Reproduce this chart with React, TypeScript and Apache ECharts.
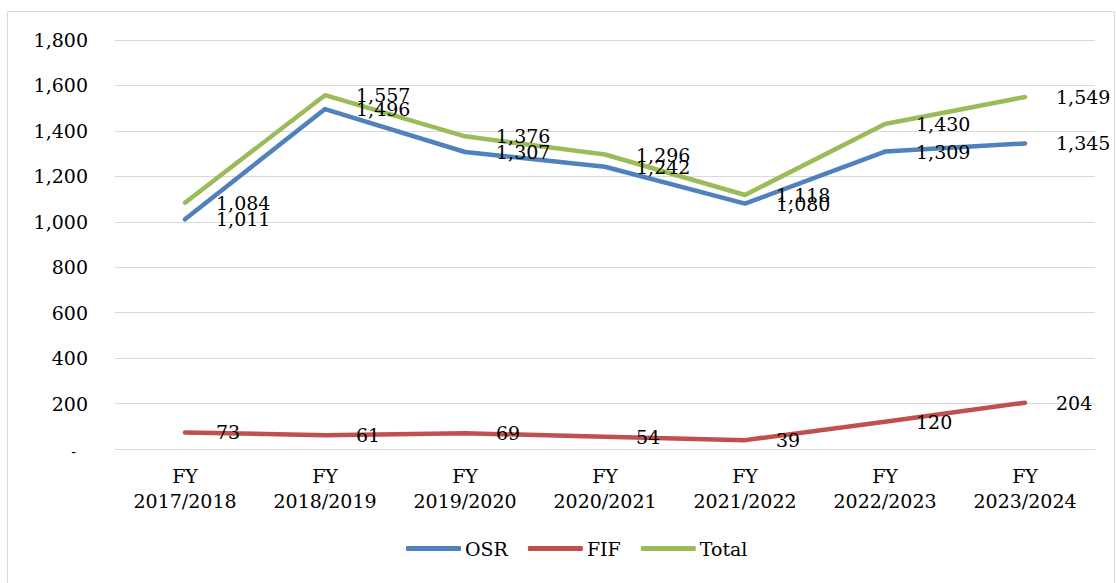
import React, { useEffect, useRef } from "react";
import * as echarts from "echarts";

const categories = ["FY\n2017/2018", "FY\n2018/2019", "FY\n2019/2020", "FY\n2020/2021", "FY\n2021/2022", "FY\n2022/2023", "FY\n2023/2024"];
const osr = [1011, 1496, 1307, 1242, 1080, 1309, 1345];
const fif = [73, 61, 69, 54, 39, 120, 204];
const total = [1084, 1557, 1376, 1296, 1118, 1430, 1549];

const FONT = "DejaVu Serif";
const fmt = (v: number) => v.toLocaleString("en-US");

export default function App() {
  const ref = useRef<HTMLDivElement>(null);
  useEffect(() => {
    if (!ref.current) return;
    const chart = echarts.init(ref.current, null, { renderer: "svg" });
    const mk = (name: string, data: number[], color: string) => ({
      name,
      type: "line",
      data,
      symbol: "circle",
      symbolSize: 2,
      showSymbol: true,
      itemStyle: { color },
      lineStyle: { color, width: 4.5, cap: "round", join: "round" },
      label: {
        show: true,
        position: "right",
        distance: 30,
        color: "#000",
        fontFamily: FONT,
        fontSize: 19,
        formatter: (p: any) => fmt(p.value),
      },
    });
    chart.setOption({
      animation: false,
      textStyle: { fontFamily: FONT },
      graphic: [
        {
          type: "rect",
          shape: { x: 7.5, y: 11.5, width: 1107, height: 600 },
          style: { fill: "none", stroke: "#D9D9D9", lineWidth: 1 },
          silent: true,
        },
      ],
      grid: { left: 115, right: 21, top: 40, bottom: 134 },
      xAxis: {
        type: "category",
        data: categories,
        boundaryGap: true,
        axisLine: { show: true, lineStyle: { color: "#D9D9D9", width: 1 } },
        axisTick: { show: false },
        axisLabel: { color: "#000", fontFamily: FONT, fontSize: 19, lineHeight: 25, margin: 14, interval: 0 },
      },
      yAxis: {
        type: "value",
        min: 0,
        max: 1800,
        interval: 200,
        axisLine: { show: false },
        axisTick: { show: false },
        splitLine: { lineStyle: { color: "#D9D9D9", width: 1 } },
        axisLabel: {
          color: "#000",
          fontFamily: FONT,
          fontSize: 19,
          margin: 27,
          formatter: (v: number) => (v === 0 ? "{d|-}" : fmt(v)),
          rich: { d: { fontFamily: FONT, fontSize: 14, padding: [6, 12, 0, 0], color: "#000" } },
        },
      },
      legend: {
        bottom: 20,
        left: 401,
        icon: "roundRect",
        itemWidth: 55,
        itemHeight: 5,
        itemGap: 20,
        textStyle: { color: "#000", fontFamily: FONT, fontSize: 19, padding: [0, 0, 0, -1] },
        data: ["OSR", "FIF", "Total"],
      },
      series: [mk("OSR", osr, "#4F81BD"), mk("FIF", fif, "#C0504D"), mk("Total", total, "#9BBB59")],
    });
    return () => chart.dispose();
  }, []);
  return (
    <div style={{ position: "fixed", left: 0, top: 0, width: 1116, height: 583, background: "#fff" }}>
      <div ref={ref} style={{ width: 1116, height: 583 }} />
    </div>
  );
}
